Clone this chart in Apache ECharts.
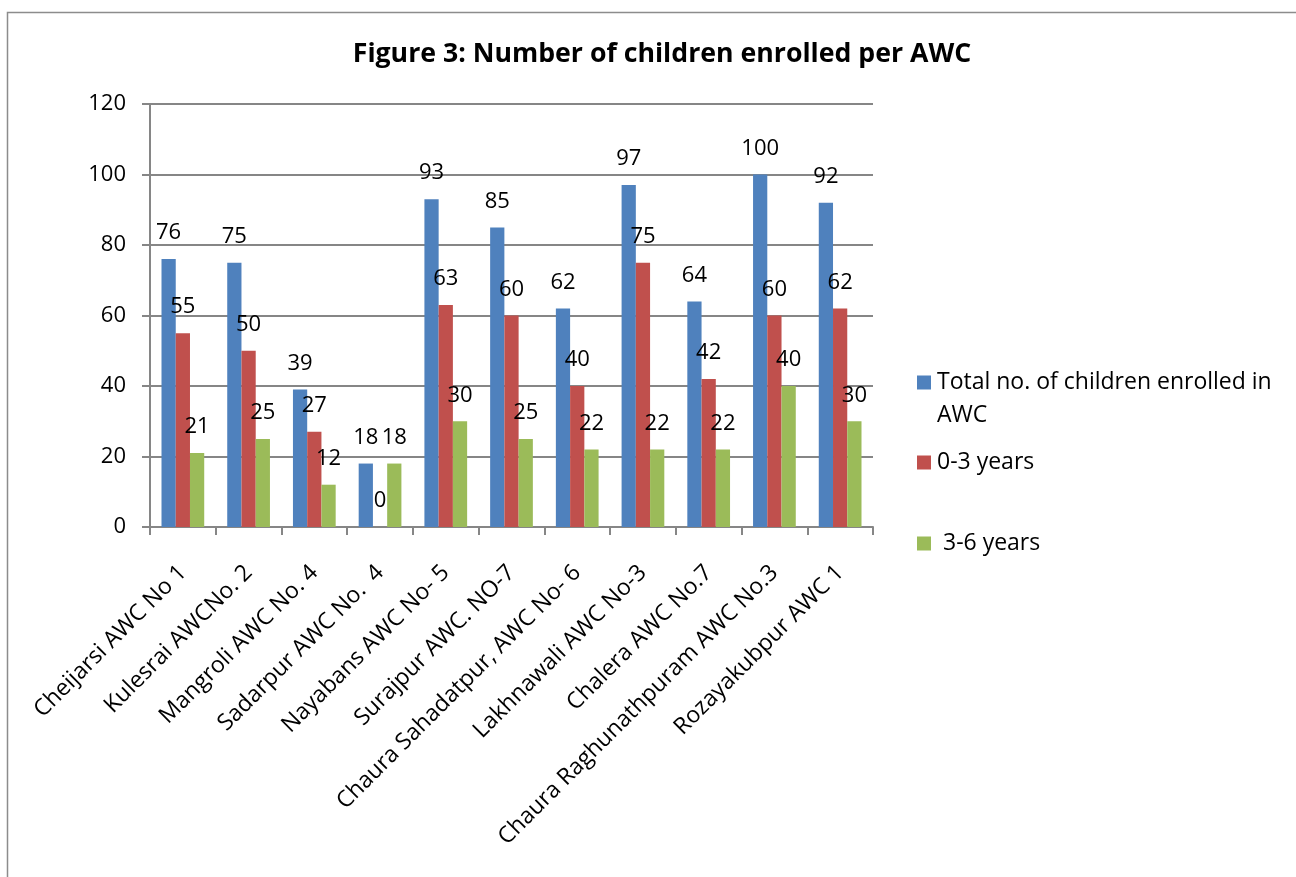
<!DOCTYPE html>
<html><head><meta charset="utf-8">
<script src="https://cdn.jsdelivr.net/npm/echarts@6/dist/echarts.min.js"></script>
<style>html,body{margin:0;padding:0;background:#fff}#c{width:1296px;height:877px}</style>
</head><body><div id="c"></div>
<script>
const categories = ['Cheijarsi AWC No 1','Kulesrai AWCNo. 2','Mangroli AWC No. 4','Sadarpur AWC No.  4','Nayabans AWC No- 5','Surajpur AWC. NO-7','Chaura Sahadatpur, AWC No- 6','Lakhnawali AWC No-3','Chalera AWC No.7','Chaura Raghunathpuram AWC No.3','Rozayakubpur AWC 1'];
const seriesNames = ['Total no. of children enrolled in AWC','0-3 years',' 3-6 years'];
const totalVals = [76,75,39,18,93,85,62,97,64,100,92];
const age03Vals = [55,50,27,0,63,60,40,75,42,60,62];
const age36Vals = [21,25,12,18,30,25,22,22,22,40,30];
const yTicks = [0,20,40,60,80,100,120];
const colors = ['#4F81BD','#C0504D','#9BBB59'];
const FONT = 'Open Sans';

const chart = echarts.init(document.getElementById('c'));
const allVals = [totalVals, age03Vals, age36Vals];
const legendTops = [333, 446, 527];
const option = {
  animation: false,
  textStyle: {fontFamily: FONT},
  title: {
    text: 'Figure 3: Number of children enrolled per AWC',
    left: 657, top: 36, textAlign: 'center',
    textStyle: {fontFamily: FONT, fontWeight: 'bold', fontSize: 26.7, color: '#000'}
  },
  graphic: [{
    type: 'rect', shape: {x: 7.5, y: 12.5, width: 1400, height: 1000},
    style: {fill: 'none', stroke: '#8c8c8c', lineWidth: 1.5}, silent: true
  }],
  legend: seriesNames.map((n, i) => ({
    data: [n], orient: 'vertical', left: 917, top: legendTops[i], padding: 0,
    itemWidth: 14, itemHeight: 14, itemGap: 0, icon: 'rect',
    formatter: i === 0 ? '\nTotal no. of children enrolled in\nAWC' : '{name}',
    textStyle: {fontFamily: FONT, fontSize: 23, color: '#000', lineHeight: 33, padding: [0,0,0,1]}
  })),
  grid: {left: 150, top: 104, right: 423, bottom: 350, containLabel: false},
  xAxis: {
    type: 'category', data: categories,
    axisLine: {lineStyle: {color: '#868686', width: 2}},
    axisTick: {show: true, length: 8, lineStyle: {color: '#868686', width: 2}},
    axisLabel: {rotate: 45, interval: 0, margin: 42, fontFamily: FONT, fontSize: 23, color: '#000'}
  },
  yAxis: {
    type: 'value', min: yTicks[0], max: yTicks[yTicks.length-1], interval: 20,
    axisLine: {show: true, lineStyle: {color: '#868686', width: 2}},
    axisTick: {show: true, length: 8, lineStyle: {color: '#868686', width: 2}},
    splitLine: {lineStyle: {color: '#868686', width: 2}},
    axisLabel: {margin: 24, fontFamily: FONT, fontSize: 22, color: '#000'}
  },
  series: seriesNames.map((n, i) => ({
    name: n, type: 'bar', data: allVals[i],
    barGap: '0%', barCategoryGap: '35%',
    itemStyle: {color: colors[i]},
    label: {show: true, position: 'top', distance: 15, fontFamily: FONT, fontSize: 22, color: '#000'}
  }))
};
chart.setOption(option);
</script></body></html>
